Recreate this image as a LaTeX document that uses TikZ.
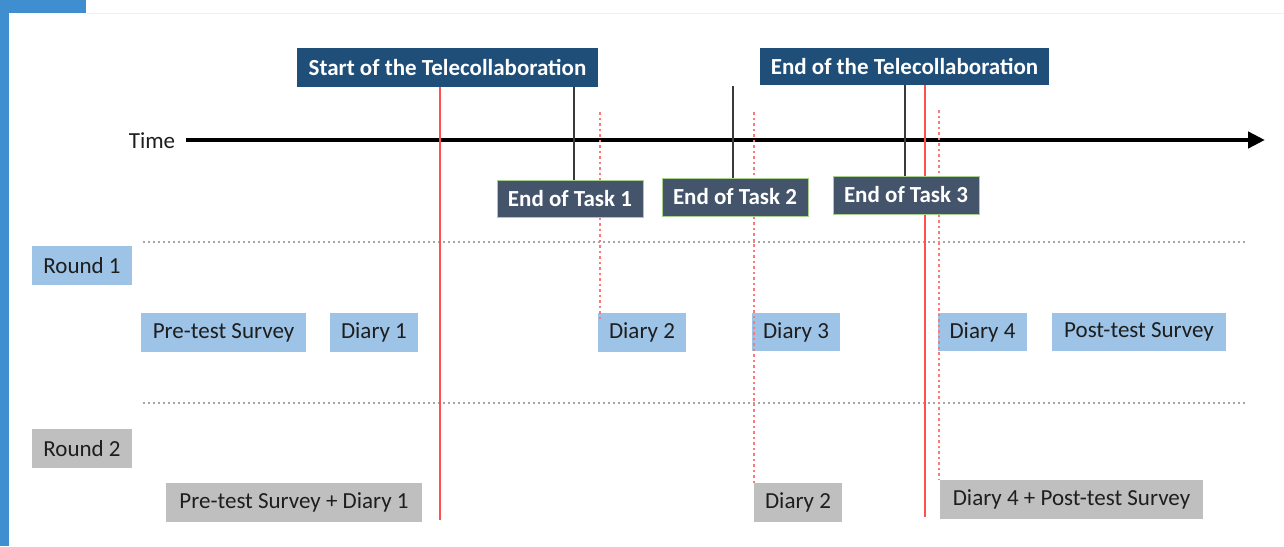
\documentclass[tikz,border=0pt]{standalone}
\usepackage{fontspec}
\setmainfont{Carlito}
\usetikzlibrary{arrows.meta}
\definecolor{frameblue}{HTML}{3F8FD0}
\definecolor{navy}{HTML}{1F4E79}
\definecolor{slate}{HTML}{44546A}
\definecolor{taskborder}{HTML}{A9D18E}
\definecolor{lightblue}{HTML}{9DC3E6}
\definecolor{lightgrey}{HTML}{BFBFBF}
\definecolor{redline}{HTML}{FF5050}
\definecolor{reddotc}{HTML}{FF7878}
\definecolor{dotgrey}{HTML}{A6A6A6}
\definecolor{txt}{HTML}{1E1E1E}
\definecolor{tickgrey}{HTML}{3A3A3A}
\begin{document}
\begin{tikzpicture}[x=1pt,y=-1pt,
  every node/.style={font=\fontsize{23}{27}\selectfont, inner sep=0pt, text=txt},
  headbox/.style={fill=navy, text=white, font=\bfseries\fontsize{23}{27}\selectfont},
  taskbox/.style={fill=slate, draw=taskborder, line width=1pt, text=white, font=\bfseries\fontsize{23}{27}\selectfont},
  roundone/.style={fill=lightblue},
  roundtwo/.style={fill=lightgrey},
  redsolid/.style={draw=redline, line width=2.5pt},
  reddot/.style={draw=reddotc, line width=1.1pt, dash pattern=on 2.5pt off 3pt},
  greydot/.style={draw=dotgrey, line width=1.8pt, dash pattern=on 2pt off 3pt},
  tickline/.style={draw=tickgrey, line width=1.8pt},
  timearrow/.style={draw=black, line width=4.5pt, -{Triangle[length=17pt,width=16pt]}}
]
\useasboundingbox (0,0) rectangle (1284,546);
\fill[white] (0,0) rectangle (1284,546);
% frame
\fill[frameblue] (0,0) rectangle (9,546);
\fill[frameblue] (0,0) rectangle (86,13);
\draw[draw=black!6, line width=1pt] (86,13) -- (1284,13);

% dotted separators
\coordinate (s1a) at (143,242);
\coordinate (s1b) at (1246,242);
\coordinate (s2a) at (143,403);
\coordinate (s2b) at (1246,403);
\draw[greydot] (s1a) -- (s1b);
\draw[greydot] (s2a) -- (s2b);

% headers
\node[headbox, minimum width=301, minimum height=39] (start) at (447.5,67.5) {Start of the Telecollaboration};
\node[headbox, minimum width=289, minimum height=37] (endtc) at (904.5,66.5) {End of the Telecollaboration};

% time axis
\node (time) at (152,141) {Time};
\coordinate (tend) at (1265,140);
\draw[timearrow] ([xshift=11pt]time.east |- tend) -- (tend);

% red solid lines
\coordinate (ra) at (440,520);
\coordinate (rb) at (925,517);
\draw[redsolid] (start.south -| ra) -- (ra);
\draw[redsolid] (endtc.south -| rb) -- (rb);

% task boxes
\node[taskbox, minimum width=146, minimum height=37] (t1) at (570,198.5) {End of Task 1};
\node[taskbox, minimum width=146, minimum height=38] (t2) at (735,197) {End of Task 2};
\node[taskbox, minimum width=146, minimum height=38] (t3) at (906,195) {End of Task 3};

% tick lines
\coordinate (k1) at (574,0);
\coordinate (k2) at (733,86);
\coordinate (k3) at (905,0);
\draw[tickline] (start.south -| k1) -- (t1.north -| k1);
\draw[tickline] (k2) -- (t2.north -| k2);
\draw[tickline] (endtc.south -| k3) -- (t3.north -| k3);

% round labels
\node[roundone, minimum width=100, minimum height=39] (r1) at (82,265.5) {Round 1};
\node[roundtwo, minimum width=100, minimum height=39] (r2) at (82,448.5) {Round 2};

% round 1 boxes
\node[roundone, minimum width=165, minimum height=39] (pre) at (223.5,332.5) {Pre-test Survey};
\node[roundone, minimum width=88, minimum height=39] (da1) at (374,332.5) {Diary 1};
\node[roundone, minimum width=88, minimum height=39] (da2) at (642,332.5) {Diary 2};
\node[roundone, minimum width=88, minimum height=38] (da3) at (796,332) {Diary 3};
\node[roundone, minimum width=89, minimum height=38] (da4) at (982.5,332) {Diary 4};
\node[roundone, minimum width=174, minimum height=38] (post) at (1139,332) {Post-test Survey};

% round 2 boxes
\node[roundtwo, minimum width=256, minimum height=39] (prd) at (294,502.5) {Pre-test Survey + Diary 1};
\node[roundtwo, minimum width=88, minimum height=39] (db2) at (798,502.5) {Diary 2};
\node[roundtwo, minimum width=263, minimum height=39] (dpo) at (1071.5,499.5) {Diary 4 + Post-test Survey};

% red dotted lines
\coordinate (p1) at (600,112);
\coordinate (p1e) at (600,320);
\coordinate (p2) at (754,112);
\coordinate (p3) at (939,110);
\draw[reddot] (p1) -- (t1.north -| p1);
\draw[reddot] (t1.south -| p1) -- (p1e);
\draw[reddot] (p2) -- (t2.north -| p2);
\draw[reddot] (t2.south -| p2) -- (db2.north -| p2);
\draw[reddot] (p3) -- (t3.north -| p3);
\draw[reddot] (t3.south -| p3) -- (dpo.north -| p3);
\end{tikzpicture}
\end{document}
